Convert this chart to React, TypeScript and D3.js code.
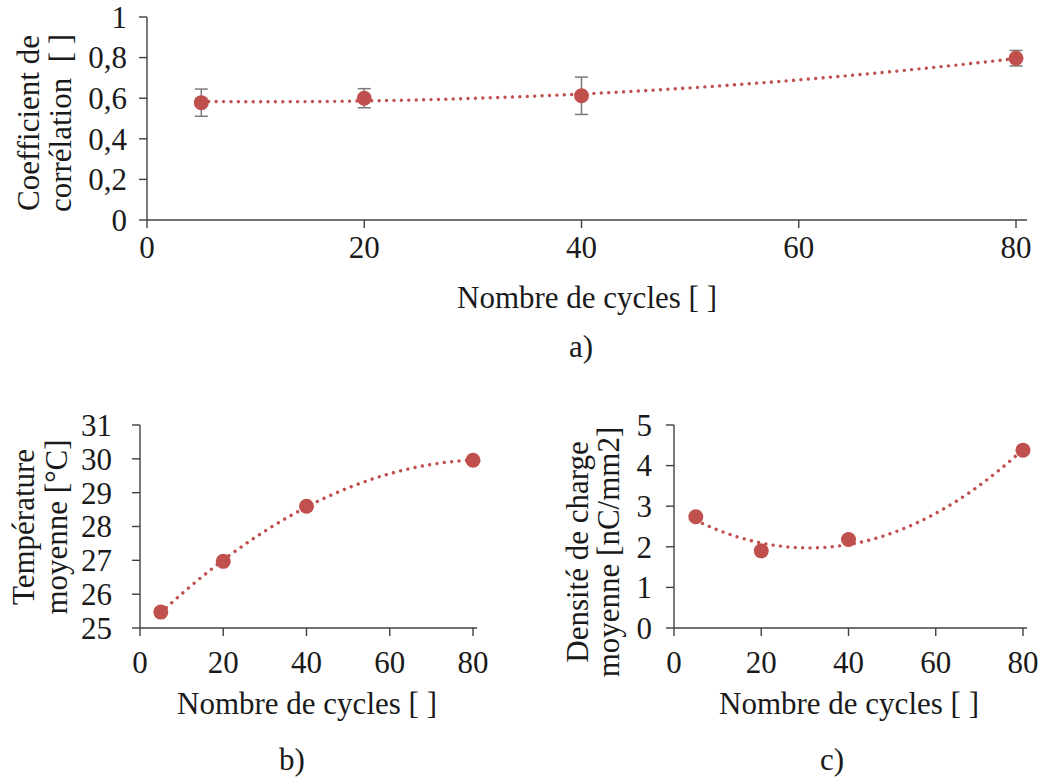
import React from "react";
import * as d3 from "d3";

// ---------- Data ----------
const cycles = [5, 20, 40, 80];
const correlation = [0.578, 0.6, 0.612, 0.797];
const correlationErr = [0.067, 0.047, 0.092, 0.038];
const temperature = [25.47, 26.97, 28.6, 29.96];
const density = [2.74, 1.9, 2.18, 4.38];

const xTicks = [0, 20, 40, 60, 80];
const corrTicks = [0, 0.2, 0.4, 0.6, 0.8, 1];
const tempTicks = [25, 26, 27, 28, 29, 30, 31];
const densTicks = [0, 1, 2, 3, 4, 5];

const RED = "#C0504D";
const AXIS = "#404040";
const TEXT = "#1a1a1a";
const FONT = "'Liberation Serif', 'Times New Roman', serif";
const FS = 31;

// quadratic least squares (Excel polynomial trendline, order 2)
function quadFit(xs: number[], ys: number[]) {
  const n = xs.length;
  let s0 = n, s1 = 0, s2 = 0, s3 = 0, s4 = 0, t0 = 0, t1 = 0, t2 = 0;
  for (let i = 0; i < n; i++) {
    const x = xs[i], y = ys[i];
    s1 += x; s2 += x * x; s3 += x ** 3; s4 += x ** 4;
    t0 += y; t1 += x * y; t2 += x * x * y;
  }
  const A = [
    [s0, s1, s2, t0],
    [s1, s2, s3, t1],
    [s2, s3, s4, t2],
  ];
  for (let i = 0; i < 3; i++) {
    for (let k = i + 1; k < 3; k++) {
      const f = A[k][i] / A[i][i];
      for (let j = i; j < 4; j++) A[k][j] -= f * A[i][j];
    }
  }
  const c = [0, 0, 0];
  for (let i = 2; i >= 0; i--) {
    let s = A[i][3];
    for (let j = i + 1; j < 3; j++) s -= A[i][j] * c[j];
    c[i] = s / A[i][i];
  }
  return (x: number) => c[0] + c[1] * x + c[2] * x * x;
}

type PanelProps = {
  x0: number; x1: number; xExt: number;
  yTop: number; yBot: number;
  yDomain: [number, number];
  yTicks: number[];
  yFmt: (v: number) => string;
  values: number[];
  errors?: number[];
  xTickLabelBaseline: number;
  yLabelGap: number;
  xTitle: { x: number; y: number };
  tag: { text: string; x: number; y: number };
  yTitle: { lines: string[]; xs: number[]; cy: number };
};

function Panel(p: PanelProps) {
  const x = d3.scaleLinear().domain([0, 80]).range([p.x0, p.x1]);
  const y = d3.scaleLinear().domain(p.yDomain).range([p.yBot, p.yTop]);
  const fit = quadFit(cycles, p.values);
  const samples = d3.range(0, 101).map((i) => 5 + (75 * i) / 100);
  const line = d3
    .line<number>()
    .x((d) => x(d))
    .y((d) => y(fit(d)));
  return (
    <g>
      {/* axes */}
      <line x1={p.x0} x2={p.x1 + p.xExt} y1={p.yBot} y2={p.yBot} stroke={AXIS} strokeWidth={1.4} />
      <line x1={p.x0} x2={p.x0} y1={p.yTop} y2={p.yBot} stroke={AXIS} strokeWidth={1.4} />
      {p.yTicks.map((t) => (
        <g key={"y" + t}>
          <line x1={p.x0 - 8} x2={p.x0} y1={y(t)} y2={y(t)} stroke={AXIS} strokeWidth={1.4} />
          <text x={p.x0 - p.yLabelGap} y={y(t)} dy="0.35em" textAnchor="end" fontSize={FS} fill={TEXT} fontFamily={FONT}>
            {p.yFmt(t)}
          </text>
        </g>
      ))}
      {xTicks.map((t) => (
        <g key={"x" + t}>
          <line x1={x(t)} x2={x(t)} y1={p.yBot} y2={p.yBot + 8} stroke={AXIS} strokeWidth={1.4} />
          <text x={x(t)} y={p.xTickLabelBaseline} textAnchor="middle" fontSize={FS} fill={TEXT} fontFamily={FONT}>
            {t}
          </text>
        </g>
      ))}
      {/* trendline */}
      <path
        d={line(samples) || ""}
        fill="none"
        stroke={RED}
        strokeWidth={3.4}
        strokeDasharray="0.01 7.4"
        strokeLinecap="round"
      />
      {/* error bars */}
      {p.errors &&
        cycles.map((c, i) => (
          <g key={"e" + i} stroke="#7a7a7a" strokeWidth={1.5}>
            <line x1={x(c)} x2={x(c)} y1={y(p.values[i] - p.errors![i])} y2={y(p.values[i] + p.errors![i])} />
            <line x1={x(c) - 6.5} x2={x(c) + 6.5} y1={y(p.values[i] - p.errors![i])} y2={y(p.values[i] - p.errors![i])} />
            <line x1={x(c) - 6.5} x2={x(c) + 6.5} y1={y(p.values[i] + p.errors![i])} y2={y(p.values[i] + p.errors![i])} />
          </g>
        ))}
      {/* points */}
      {cycles.map((c, i) => (
        <circle key={"p" + i} cx={x(c)} cy={y(p.values[i])} r={7.5} fill={RED} />
      ))}
      {/* titles */}
      <text x={p.xTitle.x} y={p.xTitle.y} textAnchor="middle" fontSize={FS} fill={TEXT} fontFamily={FONT}>
        Nombre de cycles [ ]
      </text>
      <text x={p.tag.x} y={p.tag.y} textAnchor="middle" fontSize={FS} fill={TEXT} fontFamily={FONT}>
        {p.tag.text}
      </text>
      {p.yTitle.lines.map((l, i) => (
        <text
          key={"t" + i}
          transform={`translate(${p.yTitle.xs[i]},${p.yTitle.cy}) rotate(-90)`}
          textAnchor="middle"
          fontSize={FS}
          fill={TEXT}
          fontFamily={FONT}
          xmlSpace="preserve"
        >
          {l}
        </text>
      ))}
    </g>
  );
}

const commaFmt = (v: number) => (v === 0 || v === 1 ? String(v) : String(Math.round(v * 10) / 10).replace(".", ","));

export default function App() {
  return (
    <div style={{ position: "absolute", left: 0, top: 0 }}>
      <svg width={1040} height={778} style={{ display: "block", background: "#fff" }}>
        <Panel
          x0={147}
          x1={1016}
          xExt={11}
          yTop={17}
          yBot={220}
          yDomain={[0, 1]}
          yTicks={corrTicks}
          yFmt={commaFmt}
          values={correlation}
          errors={correlationErr}
          xTickLabelBaseline={258}
          yLabelGap={20}
          xTitle={{ x: 587, y: 308 }}
          tag={{ text: "a)", x: 581, y: 357 }}
          yTitle={{ lines: ["Coefficient de", "corrélation  [ ]"], xs: [39, 71], cy: 123 }}
        />
        <Panel
          x0={140}
          x1={473}
          xExt={4}
          yTop={425}
          yBot={628}
          yDomain={[25, 31]}
          yTicks={tempTicks}
          yFmt={(v) => String(v)}
          values={temperature}
          xTickLabelBaseline={673}
          yLabelGap={28}
          xTitle={{ x: 307, y: 714 }}
          tag={{ text: "b)", x: 292, y: 770 }}
          yTitle={{ lines: ["Température", "moyenne [°C]"], xs: [34, 67], cy: 527 }}
        />
        <Panel
          x0={674}
          x1={1023}
          xExt={4}
          yTop={425}
          yBot={628}
          yDomain={[0, 5]}
          yTicks={densTicks}
          yFmt={(v) => String(v)}
          values={density}
          xTickLabelBaseline={673}
          yLabelGap={22}
          xTitle={{ x: 849, y: 714 }}
          tag={{ text: "c)", x: 832, y: 770 }}
          yTitle={{ lines: ["Densité de charge", "moyenne [nC/mm2]"], xs: [588, 619], cy: 552 }}
        />
      </svg>
    </div>
  );
}
